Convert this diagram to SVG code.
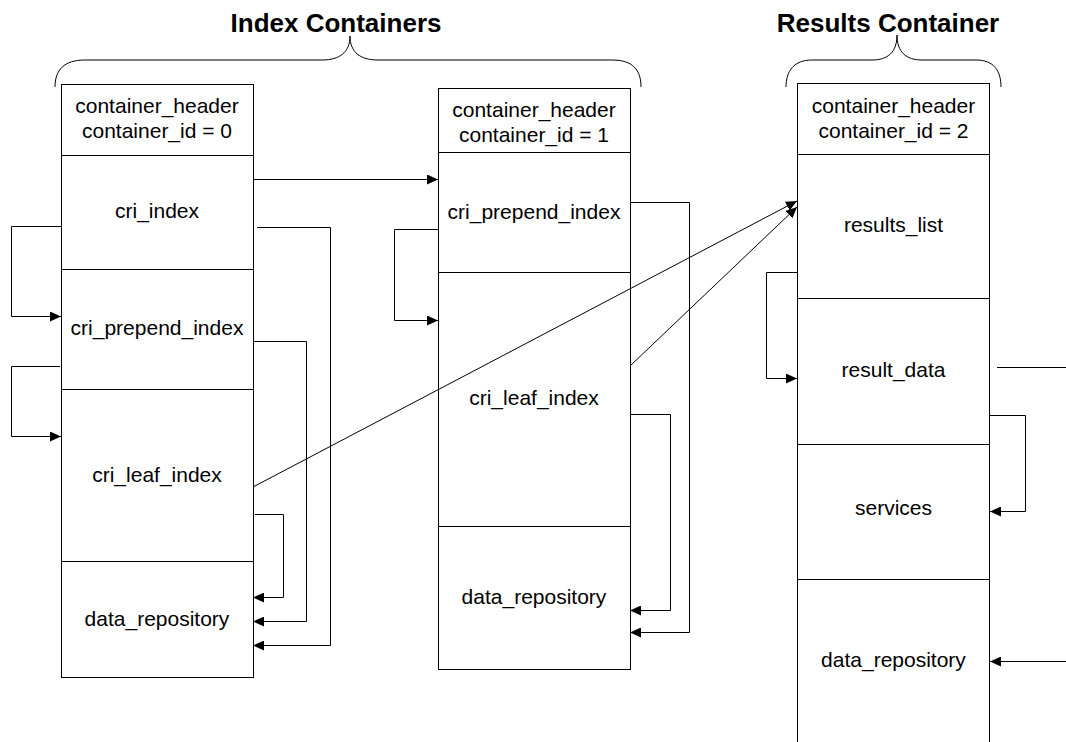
<svg xmlns="http://www.w3.org/2000/svg" width="1066" height="742" viewBox="0 0 1066 742">
<style>
.box{fill:#fff;stroke:#000;stroke-width:1}
.lbl{font-family:"Liberation Sans",Arial,sans-serif;font-size:21px;fill:#000;text-anchor:middle}
.title{font-family:"Liberation Sans",Arial,sans-serif;font-size:26px;font-weight:bold;fill:#000;text-anchor:middle}
.brace{fill:none;stroke:#000;stroke-width:1}
.conn{fill:none;stroke:#000;stroke-width:1}
.arr{marker-end:url(#ah)}
</style>
<defs>
<marker id="ah" markerWidth="11" markerHeight="10" refX="11" refY="5" orient="auto" markerUnits="userSpaceOnUse">
<path d="M0,0 L11,5 L0,10 z" fill="#000"/>
</marker>
</defs>
<rect width="1066" height="742" fill="#fff"/>

<g id="title-index">
<text class="title" x="336" y="32">Index Containers</text>
<path class="brace" d="M55,87 C55,70 64,60 85,60 L322,60 C340,60 350,52 350,36 C350,52 360,60 378,60 L612,60 C633,60 641,70 641,87"/>
</g>
<g id="title-results">
<text class="title" x="888" y="32">Results Container</text>
<path class="brace" d="M786,87 C786,71 794,60 812,60 L872,60 C888,60 897,52 897,35 C897,52 906,60 922,60 L976,60 C994,60 1001,71 1001,87"/>
</g>

<g id="container0">
<g id="c0-header"><rect class="box" x="61.5" y="84.5" width="192" height="71"/>
<text class="lbl" x="157" y="113">container_header</text><text class="lbl" x="157" y="138">container_id = 0</text></g>
<g id="c0-cri_index"><rect class="box" x="61.5" y="155.5" width="192" height="114"/><text class="lbl" x="157" y="218">cri_index</text></g>
<g id="c0-cri_prepend_index"><rect class="box" x="61.5" y="269.5" width="192" height="120"/><text class="lbl" x="157" y="335">cri_prepend_index</text></g>
<g id="c0-cri_leaf_index"><rect class="box" x="61.5" y="389.5" width="192" height="172"/><text class="lbl" x="157" y="482">cri_leaf_index</text></g>
<g id="c0-data_repository"><rect class="box" x="61.5" y="561.5" width="192" height="116"/><text class="lbl" x="157" y="626">data_repository</text></g>
</g>

<g id="container1">
<g id="c1-header"><rect class="box" x="438.5" y="88.5" width="192" height="64"/>
<text class="lbl" x="534" y="117">container_header</text><text class="lbl" x="534" y="142">container_id = 1</text></g>
<g id="c1-cri_prepend_index"><rect class="box" x="438.5" y="152.5" width="192" height="120"/><text class="lbl" x="534" y="219">cri_prepend_index</text></g>
<g id="c1-cri_leaf_index"><rect class="box" x="438.5" y="272.5" width="192" height="254"/><text class="lbl" x="534" y="405">cri_leaf_index</text></g>
<g id="c1-data_repository"><rect class="box" x="438.5" y="526.5" width="192" height="143"/><text class="lbl" x="534" y="604">data_repository</text></g>
</g>

<g id="container2">
<g id="c2-header"><rect class="box" x="797.5" y="83.5" width="192" height="71"/>
<text class="lbl" x="893.5" y="113">container_header</text><text class="lbl" x="893.5" y="138">container_id = 2</text></g>
<g id="c2-results_list"><rect class="box" x="797.5" y="154.5" width="192" height="144"/><text class="lbl" x="893.5" y="232">results_list</text></g>
<g id="c2-result_data"><rect class="box" x="797.5" y="298.5" width="192" height="146"/><text class="lbl" x="893.5" y="377">result_data</text></g>
<g id="c2-services"><rect class="box" x="797.5" y="444.5" width="192" height="135"/><text class="lbl" x="893.5" y="515">services</text></g>
<g id="c2-data_repository"><rect class="box" x="797.5" y="579.5" width="192" height="170"/><text class="lbl" x="893.5" y="667">data_repository</text></g>
</g>

<g id="connectors">
<path class="conn arr" d="M253,179.5 L438,179.5"/>
<path class="conn arr" d="M257,227.5 L330.5,227.5 L330.5,645.5 L253,645.5"/>
<path class="conn arr" d="M253,341.5 L306.5,341.5 L306.5,621.5 L253,621.5"/>
<path class="conn arr" d="M255,514.5 L283.5,514.5 L283.5,597.5 L253,597.5"/>
<path class="conn arr" d="M61,226.5 L11.5,226.5 L11.5,316.5 L61,316.5"/>
<path class="conn arr" d="M60,366.5 L11.5,366.5 L11.5,436.5 L61,436.5"/>
<path class="conn arr" d="M253,487 L797,201"/>
<path class="conn arr" d="M630,202.5 L689.5,202.5 L689.5,632.5 L630,632.5"/>
<path class="conn arr" d="M438,229.5 L394.5,229.5 L394.5,320.5 L438,320.5"/>
<path class="conn arr" d="M630,414.5 L670.5,414.5 L670.5,610.5 L630,610.5"/>
<path class="conn arr" d="M630,366 L797,207"/>
<path class="conn arr" d="M797,272.5 L766.5,272.5 L766.5,378.5 L797,378.5"/>
<path class="conn" d="M997,367.5 L1066,367.5"/>
<path class="conn arr" d="M990,415.5 L1025.5,415.5 L1025.5,511.5 L990,511.5"/>
<path class="conn arr" d="M1066,661.5 L990,661.5"/>
</g>
</svg>
